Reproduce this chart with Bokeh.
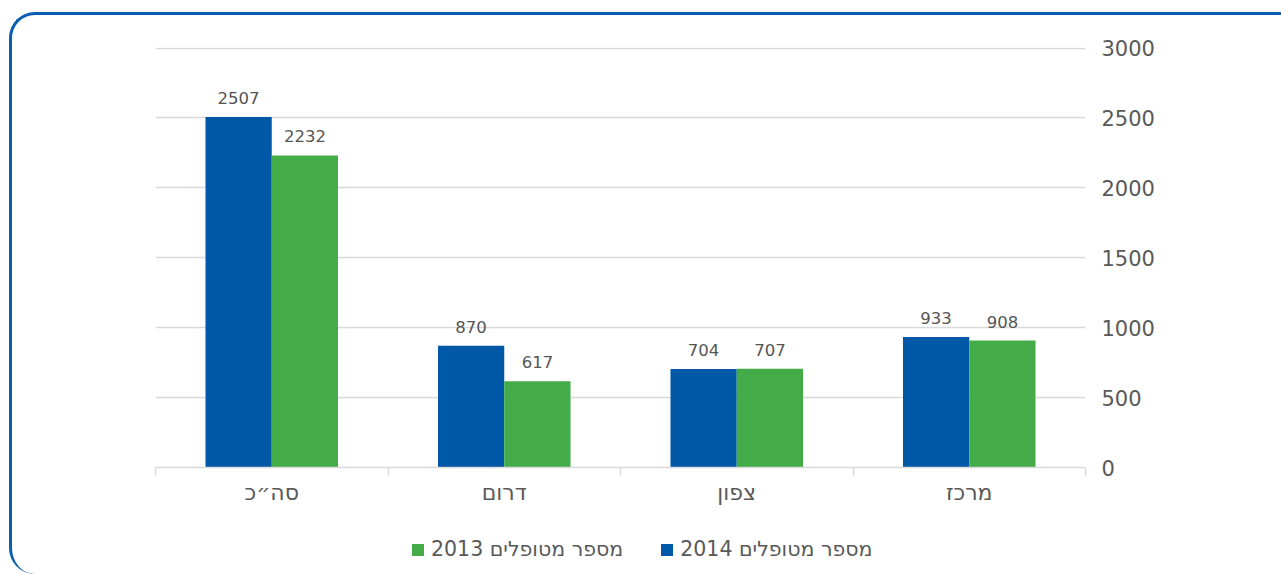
from bokeh.plotting import figure
from bokeh.layouts import column
from bokeh.models import (ColumnDataSource, FixedTicker, LinearAxis, Legend, LegendItem, Range1d)
from bokeh.embed import file_html
from bokeh.resources import INLINE
from bokeh.core.properties import value

categories = ["סה״כ", "דרום", "צפון", "מרכז"]
patients_2014 = [2507, 870, 704, 933]
patients_2013 = [2232, 617, 707, 908]
series_names = ["מספר מטופלים 2014", "מספר מטופלים 2013"]
y_ticks = [0, 500, 1000, 1500, 2000, 2500, 3000]

BLUE = "#0058a7"
GREEN = "#43ac49"
TXT = "#595959"
FONT = "DejaVu Sans"

BW = 0.285
idx = list(range(len(categories)))
src14 = ColumnDataSource(dict(x=[i + 0.5 - BW / 2 for i in idx], top=patients_2014,
                              lab=[str(v) for v in patients_2014]))
src13 = ColumnDataSource(dict(x=[i + 0.5 + BW / 2 for i in idx], top=patients_2013,
                              lab=[str(v) for v in patients_2013]))

p = figure(width=1269, height=510, output_backend="svg", toolbar_location=None,
           x_range=Range1d(0, len(categories)), y_range=Range1d(0, 3004),
           y_axis_location=None, min_border_left=143, min_border_right=196,
           min_border_top=32, min_border_bottom=58)
p.outline_line_color = None
p.background_fill_color = "white"
p.border_fill_alpha = 0

r14 = p.vbar(x="x", top="top", width=BW, source=src14, fill_color=BLUE, line_color=None)
r13 = p.vbar(x="x", top="top", width=BW, source=src13, fill_color=GREEN, line_color=None)

for s in (src14, src13):
    p.text(x="x", y="top", text="lab", source=s, text_align="center", text_baseline="alphabetic",
           y_offset=-19, text_font_size="16.5px", text_color="#555555", text_font=value(FONT))

# y axis on the right
yax = LinearAxis(ticker=FixedTicker(ticks=y_ticks))
yax.axis_line_color = None
yax.major_tick_line_color = None
yax.minor_tick_line_color = None
yax.major_label_text_font_size = "21px"
yax.major_label_text_color = TXT
yax.major_label_text_font = FONT
yax.major_label_standoff = 10
p.add_layout(yax, "right")

# x axis
xax = p.xaxis[0]
xax.ticker = FixedTicker(ticks=[i + 0.5 for i in idx], minor_ticks=list(range(len(categories) + 1)))
xax.major_label_overrides = {i + 0.5: c for i, c in zip(idx, categories)}
xax.major_tick_line_color = None
xax.minor_tick_in = 0
xax.minor_tick_out = 8
xax.minor_tick_line_color = "#d9d9d9"
xax.minor_tick_line_width = 1.5
xax.axis_line_color = "#d9d9d9"
xax.axis_line_width = 1.5
xax.major_label_text_font_size = "22px"
xax.major_label_text_color = TXT
xax.major_label_text_font = FONT
xax.major_label_standoff = 4

p.xgrid.grid_line_color = None
p.ygrid.ticker = FixedTicker(ticks=y_ticks)
p.ygrid.grid_line_color = "#d9d9d9"
p.ygrid.grid_line_width = 1.5

# legend strip underneath (its renderers are hidden, only the legend swatches show)
pl = figure(width=1269, height=49, output_backend="svg", toolbar_location=None,
            x_range=Range1d(0, len(categories)), y_range=Range1d(0, 3000), min_border=0)
pl.axis.visible = False
pl.grid.visible = False
pl.outline_line_color = None
pl.background_fill_alpha = 0
pl.border_fill_alpha = 0
l14 = pl.vbar(x="x", top="top", width=BW, source=src14, fill_color=BLUE, line_color=None)
l13 = pl.vbar(x="x", top="top", width=BW, source=src13, fill_color=GREEN, line_color=None)
l14.visible = False
l13.visible = False
legend = Legend(items=[LegendItem(label=series_names[1], renderers=[l13]),
                       LegendItem(label=series_names[0], renderers=[l14])],
                orientation="horizontal", location=(255, 13),
                glyph_width=15, glyph_height=15, label_standoff=6, spacing=36,
                label_text_font_size="20.5px", label_text_color=TXT, label_text_font=FONT,
                border_line_color=None, background_fill_alpha=0, padding=0, margin=0,
                inactive_fill_alpha=0)
pl.add_layout(legend, "center")

lay = column(p, pl, spacing=0)
lay.styles = {"margin-left": "9px", "margin-top": "12px",
              "border-top": "3px solid #0a5db0", "border-left": "3px solid #0a5db0",
              "border-top-left-radius": "26px", "border-bottom-left-radius": "26px"}

open("out.html", "w").write(file_html(lay, INLINE))
